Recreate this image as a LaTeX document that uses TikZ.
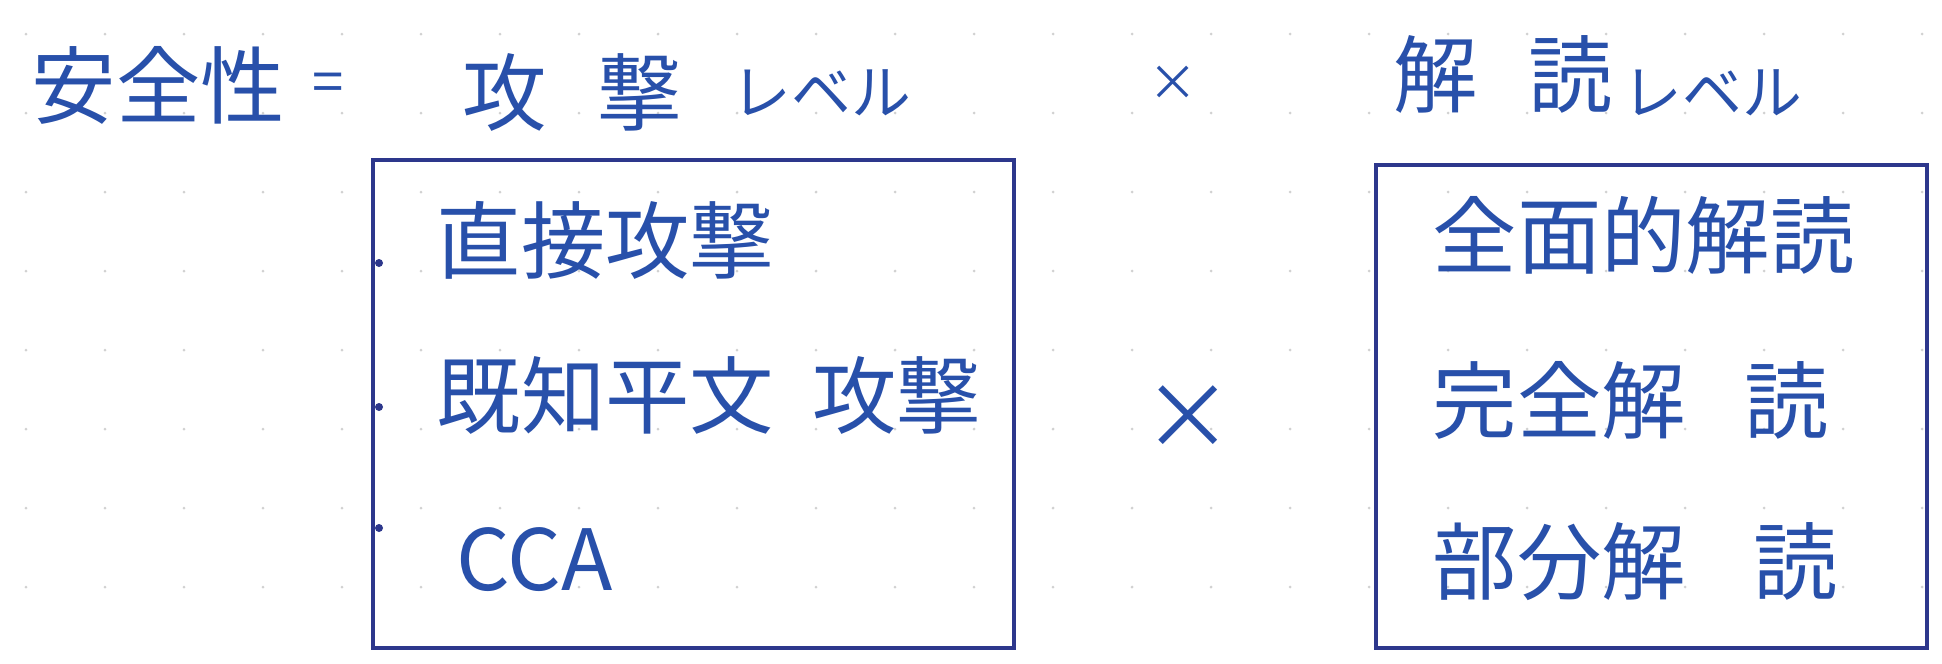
\documentclass[tikz,border=0pt]{standalone}
\usepackage{fontspec}
\setmainfont{Noto Sans CJK JP}
\definecolor{ink}{RGB}{40,80,170}
\definecolor{pen}{RGB}{45,55,140}
\newcommand{\gap}[1]{\hspace{#1}}
\begin{document}
\begin{tikzpicture}[x=0.01cm,y=-0.01cm,
  txt/.style={text=ink, inner sep=0pt, anchor=west, font=\fontsize{24pt}{28pt}\selectfont},
  small/.style={text=ink, inner sep=0pt, anchor=west, font=\fontsize{17pt}{20pt}\selectfont},
  box/.style={draw=pen, line width=1.1pt, inner sep=0pt},
  bullet/.style={circle, fill=pen, inner sep=0pt, minimum size=0.08cm},
  mulsign/.style={text=ink, inner sep=0pt}]
\useasboundingbox (0,0) rectangle (1942,663);
\fill[white] (0,0) rectangle (1942,663);
\foreach \i in {0,...,24} \foreach \j in {0,...,8} \fill[black!18] ({26+79*\i},{34+79*\j}) circle[radius=0.015cm];
% title
\node[txt] (anzen) at (31,85) {安全性};
\node[mulsign, font=\fontsize{16pt}{18pt}\selectfont] (eq) at (328,88) {=};
\node[txt] (kougeki) at (462,92) {攻\gap{0.6em}撃};
\node[small] (lv1) at (731,93) {レベル};
\node[mulsign, font=\fontsize{14pt}{16pt}\selectfont] (mul1) at (1173,83) {×};
\node[txt] (kaidoku) at (1393,74) {解\gap{0.6em}読};
\node[small] (lv2) at (1622,93) {レベル};
% boxes
\node[box, minimum width=6.41cm, minimum height=4.88cm] (attack) at (693.5,404) {};
\node[box, minimum width=5.51cm, minimum height=4.83cm] (decrypt) at (1651.5,406.5) {};
% bullets
\node[bullet] (b1) at (379,263) {};
\node[bullet] (b2) at (379,407) {};
\node[bullet] (b3) at (379,528) {};
% attack items
\node[txt] (a1) at (436,240) {直接攻撃};
\node[txt] (a2) at (436,395) {既知平文\gap{0.45em}攻撃};
\node[txt] (a3) at (456,560) {CCA};
% middle times
\node[mulsign, font=\fontsize{26pt}{30pt}\selectfont] (mul2) at (1188,418) {×};
% decrypt items
\node[txt] (d1) at (1432,235) {全面的解読};
\node[txt] (d2) at (1432,400) {完全解\gap{0.7em}読};
\node[txt] (d3) at (1432,562) {部分解\gap{0.8em}読};
\end{tikzpicture}
\end{document}
